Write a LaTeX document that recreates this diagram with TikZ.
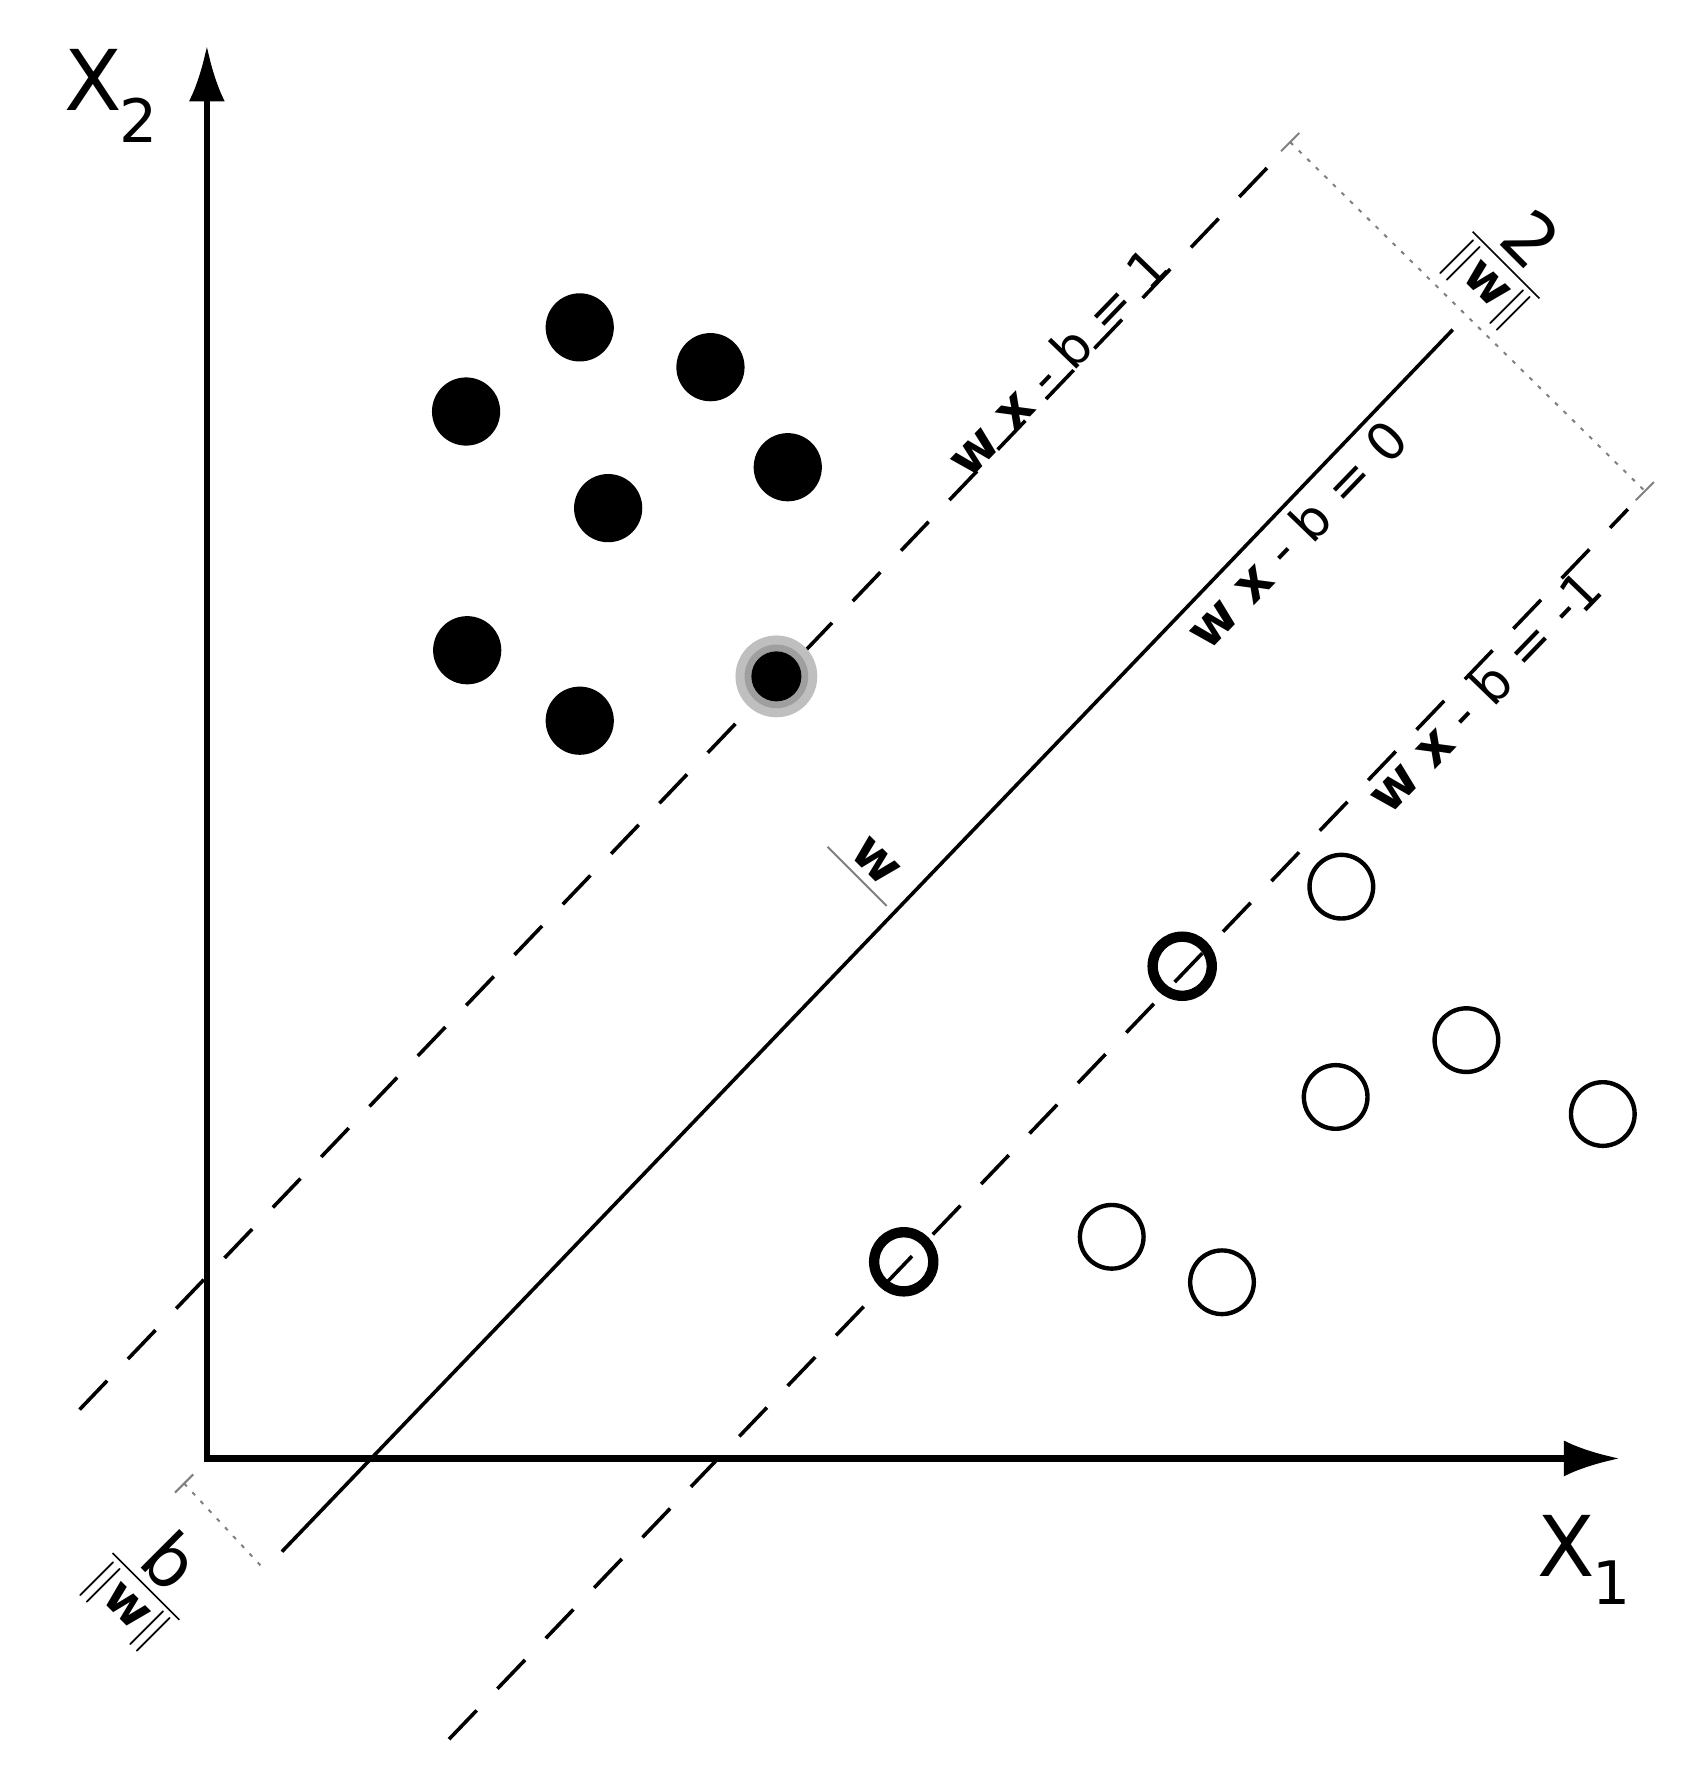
\documentclass[tikz,border=0pt]{standalone}
\usepackage{fontspec}
\setmainfont{DejaVu Sans}
\usetikzlibrary{arrows.meta,calc}
\begin{document}
\begin{tikzpicture}[x=0.1mm,y=-0.1mm,
  axis/.style={line width=1.6pt,-{Latex[length=14pt,width=9pt]}},
  hyp/.style={line width=0.9pt},
  marg/.style={line width=0.9pt,dash pattern=on 10pt off 7.5pt},
  meas/.style={line width=0.5pt,gray,dash pattern=on 1pt off 2pt},
  posdot/.style={circle,fill=black,minimum size=60*0.1mm,inner sep=0pt},
  negdot/.style={circle,draw=black,line width=1.1pt,minimum size=56*0.1mm,inner sep=0pt},
  svdot/.style={circle,draw=black,line width=2.6pt,minimum size=52*0.1mm,inner sep=0pt},
  lab/.style={font=\fontsize{13}{15}\selectfont,inner sep=1pt},
  frac/.style={rotate=-45,inner sep=0pt,font=\fontsize{18}{20}\selectfont},
  axl/.style={font=\fontsize{21}{23}\selectfont,inner sep=0pt},
  axs/.style={font=\fontsize{15}{17}\selectfont,inner sep=0pt}]
\useasboundingbox (0,0) rectangle (1500,1565);
% axes
\coordinate (O) at (182,1283);
\coordinate (Y) at (182,40);
\coordinate (X) at (1425,1283);
\draw[axis] (O) -- (Y);
\draw[axis] ([xshift=-0.8pt]O) -- (X);
\node[axl] (x2) at (82,70) {X};
\node[axs] (x2s) at (122,106) {2};
\node[axl] (x1) at (1378,1360) {X};
\node[axs] (x1s) at (1418,1392) {1};
% hyperplanes
\coordinate (s0) at (248,1365); \coordinate (s1) at (1278,290);
\draw[hyp] (s0) -- (s1);
\coordinate (u0) at (70,1240); \coordinate (u1) at (1122,140);
\draw[marg] (u0) -- (u1);
\coordinate (l0) at (395,1530); \coordinate (l1) at (1432,448);
\draw[marg] (l0) -- (l1);
% margin measure
\coordinate (m0) at (1135,125); \coordinate (m1) at (1447,432);
\draw[meas] (m0) -- (m1);
\draw[gray,line width=0.5pt] ($(m0)+(-8,8)$) -- ($(m0)+(8,-8)$);
\draw[gray,line width=0.5pt] ($(m1)+(-8,8)$) -- ($(m1)+(8,-8)$);
\coordinate (b0) at (162,1305); \coordinate (b1) at (230,1378);
\draw[meas] (b0) -- (b1);
\draw[gray,line width=0.5pt] ($(b0)+(-8,8)$) -- ($(b0)+(8,-8)$);
% fractions
\node[frac] (f2) at (1328,230) {$\frac{\textrm{2}}{\|\mathbf{w}\|}$};
\node[frac] (fb) at (132,1392) {$\frac{\textrm{b}}{\|\mathbf{w}\|}$};
% line labels
\node[lab,rotate=46] (e1) at (930,318) {\textbf{w} \textbf{x} - b = 1};
\node[lab,rotate=46] (e0) at (1140,470) {\textbf{w} \textbf{x} - b = 0};
\node[lab,rotate=46] (e2) at (1305,608) {\textbf{w} \textbf{x} - b = -1};
% normal w
\coordinate (w0) at (728,745); \coordinate (w1) at (780,797);
\draw[gray,line width=0.5pt] (w0) -- (w1);
\node[lab,rotate=-45] (wl) at (770,758) {\textbf{w}};
% points
\foreach \p/\q [count=\i] in {510/288,625/323,410/362,693/411,535/447,411/572,510/634}
  \node[posdot] (p\i) at (\p,\q) {};
\fill[gray!50] (683,595) circle (36);
\fill[gray!75] (683,595) circle (28);
\node[posdot,minimum size=44*0.1mm] (svp) at (683,595) {};
\foreach \p/\q [count=\i] in {1180/780,1290/915,1175/965,1410/980,978/1088,1075/1128}
  \node[negdot] (n\i) at (\p,\q) {};
\node[svdot] (sv1) at (1040,850) {};
\node[svdot] (sv2) at (795,1110) {};
\end{tikzpicture}
\end{document}
